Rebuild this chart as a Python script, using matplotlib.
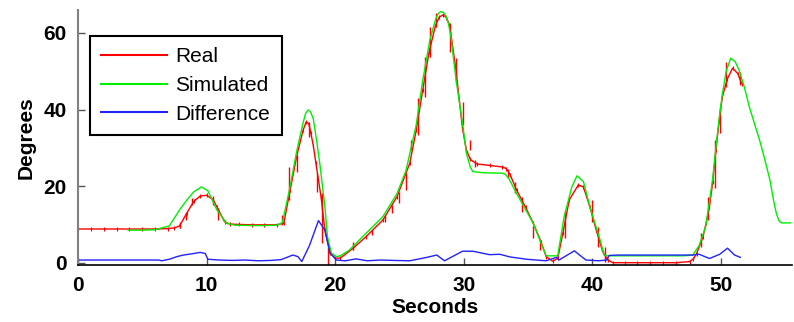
import numpy as np
import matplotlib
matplotlib.use("Agg")
import matplotlib.pyplot as plt

plt.rcParams['font.family'] = ['Liberation Sans', 'DejaVu Sans']

# measured joint angle (deg) vs time (s)
real_t = [0, 1, 2, 3, 4, 5, 6, 7, 7.5, 7.9, 8.45, 9.0, 9.5, 10.0, 10.5, 10.8, 11.4, 11.8,
          12.5, 13.5, 14.5, 15.5, 16.0, 16.5, 17.0, 17.5, 17.75, 17.95, 18.1, 18.3, 18.5, 18.9,
          19.2, 19.6, 20.0, 20.4, 21.4, 22.4, 23.7, 24.8, 25.8, 26.3, 26.8, 27.3, 27.8, 28.1,
          28.4, 28.65, 28.9, 29.4, 29.9, 30.2, 30.5, 31.0, 32.0, 33.0, 33.3, 33.6, 34.1, 34.8,
          35.4, 36.0, 36.4, 36.9, 37.3, 37.7, 38.2, 38.9, 39.3, 39.8, 40.3, 40.8, 41.2, 41.6,
          42.5, 43.5, 44.5, 45.5, 46.5, 47.55, 47.85, 48.1, 48.6, 48.85, 49.1, 49.35, 49.6,
          49.85, 50.1, 50.5, 50.9, 51.3, 51.6]
real_v = [8.8, 8.8, 8.8, 8.8, 8.8, 8.8, 8.8, 8.9, 9.1, 9.6, 12.9, 16.0, 17.4, 17.6, 16.5, 14.6,
          10.7, 10.1, 10.0, 9.9, 9.9, 9.9, 10.3, 19.0, 27.7, 34.6, 36.8, 36.3, 34.0, 30.5, 26.0,
          17.2, 8.5, 2.5, 1.2, 1.2, 3.8, 6.8, 11.1, 17.2, 26.0, 34.6, 45.0, 55.0, 62.0, 64.2,
          64.7, 64.0, 62.0, 50.0, 35.0, 29.5, 27.0, 25.8, 25.4, 25.0, 24.6, 23.0, 19.0, 14.5,
          10.3, 5.5, 1.6, 0.4, 1.1, 7.7, 16.4, 20.3, 19.8, 14.6, 8.5, 2.9, 0.7, 0.0,
          0.0, 0.0, 0.0, 0.0, 0.0, 0.3, 1.0, 2.4, 6.8, 10.5, 14.6, 21.0, 29.4,
          37.0, 43.3, 48.1, 50.8, 49.4, 46.8]

# single-sample glitches in the measured signal: time, low, high (deg)
spike_t = [7.9, 8.4, 8.9, 10.5, 10.9, 15.9, 16.4, 17.0, 18.0, 18.55, 19.0, 19.45,
           21.4, 22.9, 23.85, 24.45, 24.95, 25.5, 25.9, 26.45, 26.95, 27.4, 27.85,
           28.9, 29.4, 29.95, 30.45, 30.9, 33.45, 33.95, 34.5, 35.4, 35.9, 37.9,
           39.95, 40.4, 40.95, 48.45, 48.95, 49.5, 49.9, 50.35, 51.45]
spike_lo = [9.0, 11.1, 15.1, 15.1, 11.1, 9.8, 16.4, 23.8, 32.9, 18.5, 5.1, -0.6,
            3.3, 7.2, 10.7, 12.9, 15.5, 19.0, 29.4, 33.3, 43.3, 53.8, 61.6,
            55.1, 47.3, 36.0, 29.4, 25.0, 22.0, 18.1, 13.3, 6.4, 3.3, 6.4,
            10.7, 4.2, 0.3, 4.2, 11.1, 19.4, 33.8, 46.0, 46.4]
spike_hi = [10.7, 12.9, 16.8, 17.4, 14.2, 12.5, 25.0, 28.1, 36.5, 23.4, 18.1, 4.2,
            5.5, 8.5, 12.5, 15.1, 18.5, 23.4, 32.0, 42.9, 53.8, 61.6, 65.1,
            62.1, 53.4, 42.0, 32.0, 26.8, 24.6, 21.1, 17.2, 9.6, 5.9, 13.8,
            16.4, 9.4, 4.2, 7.7, 17.2, 32.0, 40.7, 52.5, 49.9]

# model output
sim_t = [3.9, 5, 6, 6.4, 7.1, 7.9, 8.5, 9.0, 9.6, 10.1, 10.8, 11.55, 12.2, 13.5, 14.5, 15.5,
         15.9, 16.5, 17.0, 17.5, 17.7, 17.9, 18.1, 18.3, 18.55, 18.8, 19.2, 19.4, 19.7, 20.1,
         20.4, 21.1, 22.4, 23.7, 24.8, 25.5, 26.3, 26.8, 27.35, 27.8, 28.0, 28.2, 28.4, 28.6,
         28.8, 29.0, 29.4, 29.9, 30.2, 30.5, 30.7, 31.5, 32.5, 33.0, 33.25, 33.5, 34.1, 35.4,
         36.4, 37.3, 37.8, 38.4, 38.8, 39.3, 39.8, 40.6, 40.9, 41.2, 42.5, 44, 45.5, 47.0,
         47.8, 48.3, 48.8, 49.1, 49.35, 49.6, 49.85, 50.1, 50.4, 50.75, 51.1, 51.4, 51.8,
         52.2, 52.6, 53.0, 53.4, 53.8, 54.1, 54.3, 54.5, 54.7, 55.4]
sim_v = [8.5, 8.5, 8.6, 9.0, 9.6, 13.8, 16.5, 18.5, 19.8, 18.8, 13.8, 10.3, 9.8, 9.7, 9.7, 9.8,
         10.5, 20.0, 29.0, 36.5, 39.0, 39.9, 39.3, 37.5, 32.0, 26.0, 14.6, 6.8, 2.5, 1.6,
         1.8, 3.3, 7.7, 12.0, 18.0, 24.0, 36.0, 47.5, 58.0, 63.5, 65.0, 65.6, 65.4, 64.5,
         62.5, 59.0, 47.7, 36.4, 28.6, 25.0, 23.8, 23.5, 23.4, 23.4, 23.0, 22.0, 18.1, 10.3,
         1.8, 1.8, 12.0, 19.8, 22.7, 21.2, 14.6, 5.9, 2.0, 1.8, 1.8, 1.8, 1.8, 1.8,
         2.0, 4.5, 9.4, 16.0, 22.0, 30.0, 37.5, 44.0, 50.0, 53.4, 52.5, 50.3, 46.0,
         40.7, 36.3, 32.0, 27.0, 21.6, 16.0, 12.9, 11.0, 10.4, 10.4]

# |real - simulated|
diff_t = [0, 2, 4, 6.3, 6.5, 7.1, 7.7, 8.2, 9.0, 9.5, 9.9, 10.1, 11, 12, 13, 14, 15, 15.8,
          16.7, 17.1, 17.4, 18.0, 18.7, 19.2, 19.6, 20.1, 20.8, 21.6, 22.5, 23.5, 24.5, 25.8,
          27.0, 27.9, 28.5, 29.9, 30.7, 32.0, 32.8, 33.6, 34.9, 36.4, 37.2, 37.4, 38.6, 39.0,
          39.5, 40.5, 41.1, 41.3, 42, 44, 46, 47.8, 48.3, 49.1, 49.9, 50.5, 51.05, 51.5]
diff_v = [0.7, 0.7, 0.7, 0.7, 0.5, 0.9, 1.6, 2.0, 2.4, 2.7, 2.4, 0.9, 0.7, 0.6, 0.7, 0.5, 0.6, 0.8,
          2.0, 1.6, 0.3, 4.5, 11.0, 8.5, 2.5, 0.7, 0.5, 1.0, 0.5, 0.7, 0.6, 0.5,
          1.3, 2.0, 0.5, 3.0, 3.0, 2.1, 2.2, 1.5, 0.9, 0.5, 1.4, 0.7, 3.1, 2.0,
          0.7, 0.5, 0.7, 1.9, 2.0, 2.0, 2.0, 2.0, 2.2, 1.1, 2.2, 3.8, 2.0, 1.4]

fig = plt.figure(figsize=(7.94, 3.22), dpi=100)
ax = fig.add_axes([0.0982, 0.177, 0.899, 0.792])

ax.plot(real_t, real_v, color='red', lw=1.0, marker='|', ms=2.5, mew=0.8, label='Real')
ax.vlines(spike_t, spike_lo, spike_hi, color='red', lw=1.0)
ax.plot(sim_t, sim_v, color='#00ee00', lw=1.0, label='Simulated')
ax.plot(diff_t, diff_v, color='#2222ff', lw=1.0, label='Difference')

ax.set_xlim(0, 55.5)
ax.set_ylim(-0.6, 66)
ax.set_xticks([0, 10, 20, 30, 40, 50])
ax.set_yticks([0, 20, 40, 60])

for s in ['top', 'right']:
    ax.spines[s].set_visible(False)
ax.spines['left'].set_color('#808080')
ax.spines['left'].set_linewidth(1.5)
ax.spines['bottom'].set_color('black')
ax.spines['bottom'].set_linewidth(1.2)
ax.tick_params(direction='in', length=5, width=1.0, color='#555555', labelsize=15, pad=8)
for lab in ax.get_xticklabels() + ax.get_yticklabels():
    lab.set_fontweight('bold')

ax.set_xlabel('Seconds', fontsize=15, fontweight='bold', labelpad=2)
ax.set_ylabel('Degrees', fontsize=15, fontweight='bold', labelpad=6)

leg = ax.legend(loc='upper left', bbox_to_anchor=(0.0168, 0.898), borderaxespad=0,
                fontsize=15, handlelength=3.15, handletextpad=0.4, labelspacing=0.46,
                borderpad=0.55, fancybox=False, framealpha=1, edgecolor='black')
leg.get_frame().set_linewidth(1.5)
for h in leg.get_lines():
    h.set_marker('')
    h.set_linewidth(1.5)

fig.savefig('out.png', dpi=100)
